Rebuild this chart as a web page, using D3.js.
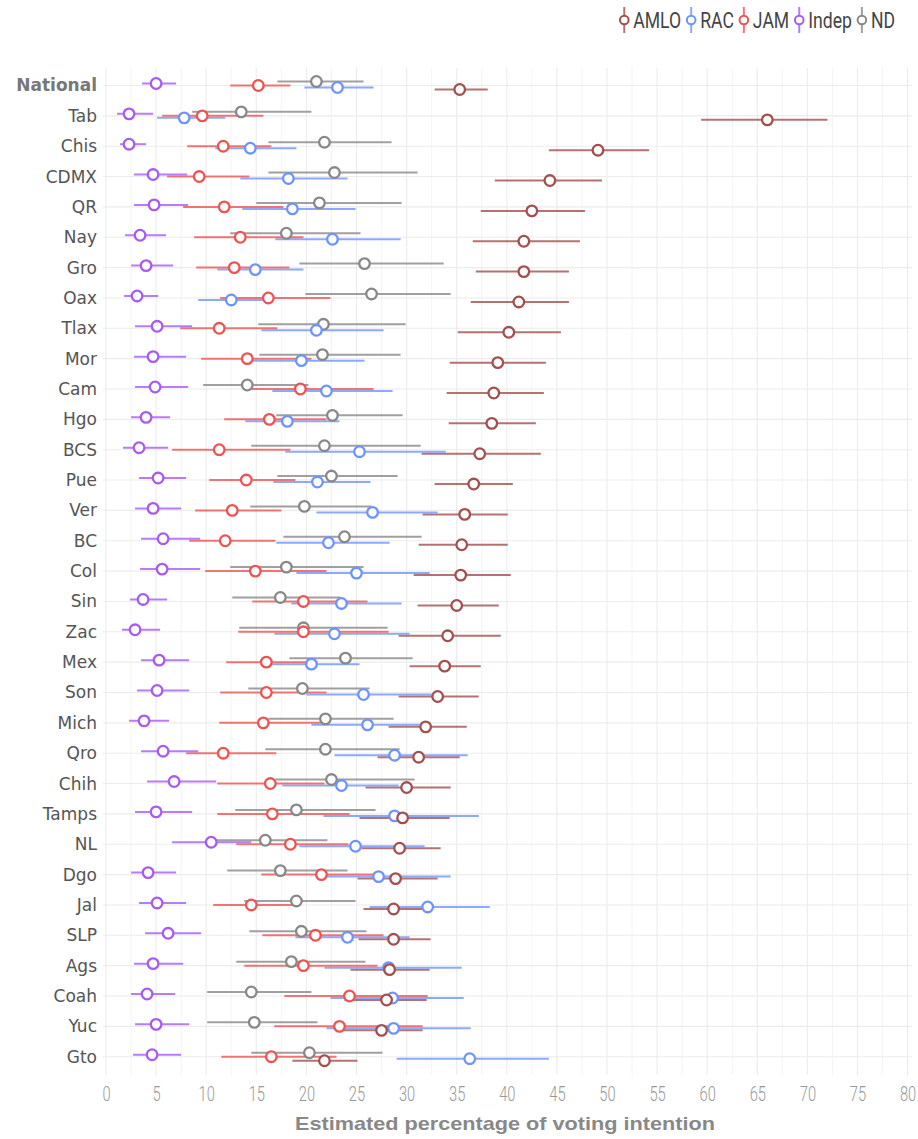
<!DOCTYPE html>
<html lang="en">
<head>
<meta charset="UTF-8">
<title>Voting intention by state</title>
<script src="https://d3js.org/d3.v7.min.js"></script>
<style>
    body { margin: 0; background: white; }
    svg { display: block; }
</style>
</head>
<body>
<svg width="918" height="1139"></svg>
<script>
    // rows, top to bottom
    const states = ['National', 'Tab', 'Chis', 'CDMX', 'QR', 'Nay', 'Gro', 'Oax', 'Tlax', 'Mor', 'Cam',
        'Hgo', 'BCS', 'Pue', 'Ver', 'BC', 'Col', 'Sin', 'Zac', 'Mex', 'Son', 'Mich', 'Qro', 'Chih',
        'Tamps', 'NL', 'Dgo', 'Jal', 'SLP', 'Ags', 'Coah', 'Yuc', 'Gto'];

    // [low, estimate, high] per row
    const amlo = [[32.8, 35.3, 38.1], [59.4, 66.0, 72.0], [44.2, 49.1, 54.2], [38.8, 44.3, 49.5], [37.4, 42.5, 47.8],
        [36.6, 41.7, 47.3], [36.9, 41.7, 46.2], [36.4, 41.2, 46.2], [35.1, 40.2, 45.4], [34.3, 39.1, 43.9],
        [34.0, 38.7, 43.7], [34.2, 38.5, 42.9], [31.5, 37.3, 43.4], [32.8, 36.7, 40.6], [31.6, 35.8, 40.1],
        [31.2, 35.5, 40.1], [30.7, 35.4, 40.4], [31.1, 35.0, 39.2], [29.2, 34.1, 39.4], [30.3, 33.8, 37.4],
        [29.2, 33.1, 37.2], [28.2, 31.9, 36.0], [27.1, 31.2, 35.3], [25.9, 30.0, 34.4], [25.3, 29.6, 34.3],
        [25.5, 29.3, 33.4], [25.1, 28.9, 33.1], [25.7, 28.7, 32.5], [25.2, 28.7, 32.4], [24.4, 28.3, 32.3],
        [23.8, 28.0, 32.0], [23.7, 27.5, 31.6], [18.6, 21.8, 25.1]];
    const rac = [[19.8, 23.1, 26.7], [5.1, 7.8, 11.9], [10.9, 14.4, 19.0], [13.4, 18.2, 24.1], [13.6, 18.6, 24.9],
        [16.9, 22.6, 29.4], [11.1, 14.9, 19.7], [9.2, 12.5, 16.2], [15.5, 21.0, 27.7], [13.6, 19.5, 25.8],
        [16.6, 22.0, 28.6], [13.9, 18.1, 23.3], [17.9, 25.3, 33.9], [16.7, 21.1, 26.4], [21.0, 26.6, 33.1],
        [17.0, 22.2, 28.3], [19.0, 25.0, 32.3], [18.5, 23.5, 29.5], [16.8, 22.8, 30.3], [16.5, 20.5, 25.3],
        [20.0, 25.7, 32.5], [20.5, 26.1, 31.3], [22.8, 28.8, 36.1], [17.6, 23.5, 29.2], [21.7, 28.8, 37.2],
        [19.3, 24.9, 31.8], [22.0, 27.2, 34.4], [26.3, 32.1, 38.3], [18.9, 24.1, 30.3], [21.8, 28.2, 35.5],
        [22.4, 28.6, 35.7], [22.0, 28.7, 36.4], [29.0, 36.3, 44.2]];
    const jam = [[12.4, 15.2, 18.4], [5.6, 9.6, 15.7], [8.1, 11.7, 16.5], [6.1, 9.3, 14.3], [7.7, 11.8, 17.7],
        [8.8, 13.4, 19.7], [9.0, 12.8, 18.3], [11.4, 16.2, 22.4], [7.4, 11.3, 17.1], [9.5, 14.1, 20.5],
        [14.5, 19.4, 26.7], [11.8, 16.3, 22.0], [6.6, 11.3, 18.4], [10.3, 14.0, 18.9], [8.9, 12.6, 17.5],
        [8.3, 11.9, 16.9], [9.9, 14.9, 22.0], [14.6, 19.7, 26.1], [13.2, 19.7, 28.2], [12.0, 16.0, 21.1],
        [11.4, 16.0, 22.0], [11.3, 15.7, 21.5], [8.0, 11.7, 17.0], [11.1, 16.4, 21.8], [11.1, 16.6, 24.3],
        [13.0, 18.4, 24.2], [15.5, 21.5, 27.5], [10.7, 14.5, 18.7], [15.6, 20.9, 27.7], [13.8, 19.7, 27.1],
        [17.8, 24.3, 32.1], [16.8, 23.3, 31.6], [11.5, 16.5, 23.0]];
    const indep = [[3.6, 5.0, 7.0], [1.1, 2.3, 4.7], [1.4, 2.3, 4.0], [2.8, 4.7, 8.1], [2.8, 4.8, 8.2],
        [1.9, 3.4, 6.0], [2.5, 4.0, 6.7], [1.8, 3.1, 5.2], [2.9, 5.1, 8.6], [2.8, 4.7, 8.0],
        [2.9, 4.9, 8.2], [2.5, 4.0, 6.4], [1.7, 3.3, 6.2], [3.3, 5.2, 8.0], [2.9, 4.7, 7.5],
        [3.5, 5.7, 9.4], [3.4, 5.6, 9.4], [2.4, 3.7, 6.1], [1.6, 2.9, 5.4], [3.5, 5.3, 8.3],
        [3.1, 5.1, 8.3], [2.3, 3.8, 6.3], [3.5, 5.7, 9.2], [4.1, 6.8, 11.0], [2.9, 5.0, 8.6],
        [6.6, 10.5, 14.5], [2.5, 4.2, 7.0], [3.3, 5.1, 8.0], [3.9, 6.2, 9.5], [2.8, 4.7, 7.7],
        [2.5, 4.1, 6.9], [2.9, 5.0, 8.3], [2.7, 4.6, 7.5]];
    const nd = [[17.1, 21.0, 25.7], [8.6, 13.5, 20.5], [16.2, 21.8, 28.5], [16.2, 22.8, 31.1], [15.0, 21.3, 29.5],
        [12.4, 18.0, 25.4], [19.3, 25.8, 33.7], [19.9, 26.5, 34.4], [15.2, 21.7, 29.9], [15.3, 21.6, 29.4],
        [9.7, 14.1, 20.2], [17.0, 22.6, 29.6], [14.5, 21.8, 31.4], [17.1, 22.5, 29.1], [14.4, 19.8, 26.5],
        [17.7, 23.8, 31.5], [12.4, 18.0, 25.7], [12.6, 17.4, 23.4], [13.3, 19.7, 28.1], [18.3, 23.9, 30.6],
        [14.2, 19.6, 26.3], [16.2, 21.9, 28.7], [15.9, 21.9, 29.3], [16.9, 22.5, 30.8], [12.9, 19.0, 26.9],
        [10.7, 15.9, 22.1], [12.1, 17.4, 24.1], [13.8, 19.0, 24.9], [14.3, 19.5, 26.0], [13.0, 18.5, 25.9],
        [10.1, 14.5, 20.5], [10.1, 14.8, 21.1], [14.5, 20.3, 27.6]];

    const parties = ['AMLO', 'RAC', 'JAM', 'Indep', 'ND'];
    const xTicks = d3.range(0, 81, 5);

    const colors = { AMLO: '#a34f4f', RAC: '#6e93ff', JAM: '#f05252', Indep: '#a55bf4', ND: '#888888' };
    const dodge = { ND: -4, Indep: -2, JAM: 0, RAC: 2, AMLO: 4 };
    const seriesData = { AMLO: amlo, RAC: rac, JAM: jam, Indep: indep, ND: nd };

    const svg = d3.select('svg');

    const x = d3.scaleLinear().domain([0, 80]).range([106, 907.6]);
    const y = d3.scalePoint().domain(states).range([85.5, 1056.7]);

    const panelTop = 68, panelBottom = 1075;
    const narrow = 'Roboto, sans-serif';

    // grid
    const grid = svg.append('g');
    grid.selectAll('line.v')
        .data(d3.range(0, 80.1, 2.5))
        .enter().append('line')
        .attr('x1', d => x(d)).attr('x2', d => x(d))
        .attr('y1', panelTop).attr('y2', panelBottom)
        .attr('stroke', '#ececec').attr('stroke-width', d => d % 5 === 0 ? 1.1 : 0.6);
    grid.selectAll('line.h')
        .data(states)
        .enter().append('line')
        .attr('x1', 103).attr('x2', 912)
        .attr('y1', d => y(d)).attr('y2', d => y(d))
        .attr('stroke', '#ececec').attr('stroke-width', 1.1);

    // y labels
    svg.append('g').selectAll('text')
        .data(states)
        .enter().append('text')
        .attr('x', 97)
        .attr('y', d => y(d))
        .attr('dy', '0.35em')
        .attr('text-anchor', 'end')
        .style('font-family', "'DejaVu Sans', sans-serif")
        .style('font-size', '17px')
        .style('font-weight', d => d === 'National' ? 'bold' : 'normal')
        .style('fill', d => d === 'National' ? '#777' : '#555')
        .text(d => d);

    // x axis, condensed look via horizontal squeeze
    const xAxis = d3.axisBottom(x).tickValues(xTicks).tickSize(0).tickPadding(0);
    const ax = svg.append('g').attr('transform', 'translate(0, 1086)').call(xAxis);
    ax.select('.domain').remove();
    ax.selectAll('text')
        .attr('transform', 'scale(0.7,1)')
        .style('font-family', narrow)
        .style('font-size', '21px')
        .style('font-weight', '300')
        .style('fill', '#999');

    svg.append('text')
        .attr('x', 505)
        .attr('y', 1130)
        .attr('text-anchor', 'middle')
        .attr('textLength', 420)
        .attr('lengthAdjust', 'spacingAndGlyphs')
        .style('font-family', "'Liberation Sans', Arial, sans-serif")
        .style('font-size', '18.5px')
        .style('font-weight', 'bold')
        .style('fill', '#888')
        .text('Estimated percentage of voting intention');

    // bars first, then points
    const barOrder = ['AMLO', 'RAC', 'JAM', 'Indep', 'ND'];
    const pointOrder = ['ND', 'Indep', 'RAC', 'JAM', 'AMLO'];

    barOrder.forEach(p => {
        svg.append('g').selectAll('line')
            .data(seriesData[p])
            .enter().append('line')
            .attr('x1', d => x(d[0])).attr('x2', d => x(d[2]))
            .attr('y1', (d, i) => y(states[i]) + dodge[p])
            .attr('y2', (d, i) => y(states[i]) + dodge[p])
            .attr('stroke', colors[p])
            .attr('stroke-width', 2)
            .attr('stroke-opacity', 0.8);
    });

    pointOrder.forEach(p => {
        svg.append('g').selectAll('circle')
            .data(seriesData[p])
            .enter().append('circle')
            .attr('cx', d => x(d[1]))
            .attr('cy', (d, i) => y(states[i]) + dodge[p])
            .attr('r', 5.3)
            .attr('fill', 'white')
            .attr('stroke', colors[p])
            .attr('stroke-width', 2.3);
    });

    // legend, right aligned, squeezed text
    const legend = svg.append('g');
    const squeeze = 0.8;
    let lx = 895;
    parties.slice().reverse().forEach(p => {
        const t = legend.append('text')
            .attr('y', 28)
            .style('font-family', narrow)
            .style('font-size', '22px')
            .style('fill', '#444')
            .text(p);
        const w = t.node().getComputedTextLength() * squeeze;
        const tx = lx - w;
        t.attr('transform', `translate(${tx},0) scale(${squeeze},1)`);
        const gx = tx - 9;
        legend.append('line')
            .attr('x1', gx).attr('x2', gx)
            .attr('y1', 7).attr('y2', 33)
            .attr('stroke', colors[p]).attr('stroke-width', 2).attr('stroke-opacity', 0.8);
        legend.append('circle')
            .attr('cx', gx).attr('cy', 20).attr('r', 4.3)
            .attr('fill', 'white').attr('stroke', colors[p]).attr('stroke-width', 2);
        lx = gx - 10;
    });
</script>
</body>
</html>
